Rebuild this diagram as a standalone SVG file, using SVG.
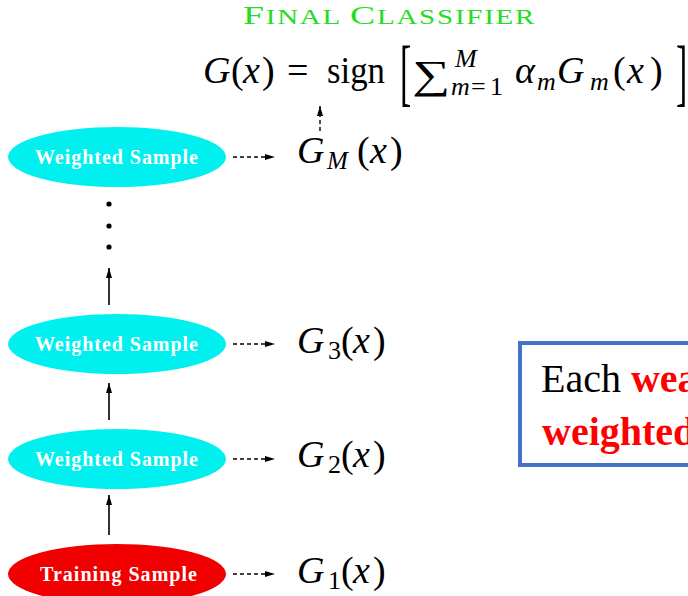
<svg xmlns="http://www.w3.org/2000/svg" width="688" height="596" viewBox="0 0 688 596">
<defs>
<style>
.cy{fill:#00f0f0}
.rd{fill:#f00000}
.nl{font-family:"Liberation Serif",serif;font-weight:bold;font-size:20px;fill:#fff}
.m{font-family:"Liberation Serif",serif;font-size:38px;fill:#000}
.ms{font-family:"Liberation Serif",serif;font-size:26px;fill:#000}
.it{font-style:italic}
.solid{stroke:#000;stroke-width:1.6;fill:none}
.dash{stroke:#000;stroke-width:1.4;fill:none;stroke-dasharray:4 3}
</style>
<marker id="ah" viewBox="0 0 10 6" refX="10" refY="3" markerWidth="10" markerHeight="6" markerUnits="userSpaceOnUse" orient="auto">
<path d="M0,0 L10,3 L0,6 Z" fill="#000"/>
</marker>
</defs>
<rect width="688" height="596" fill="#fff"/>

<g id="title">
<text transform="translate(243,24) scale(1.45,1)" font-family="Liberation Serif, serif" fill="#22dd22" textLength="201" lengthAdjust="spacing"><tspan font-size="26">F</tspan><tspan font-size="20">INAL </tspan><tspan font-size="26">C</tspan><tspan font-size="20">LASSIFIER</tspan></text>
</g>

<g id="formula">
<text class="m it" x="203" y="83">G</text>
<text class="m" x="231" y="83">(</text>
<text class="m it" x="243" y="83">x</text>
<text class="m" x="262" y="83">)</text>
<text class="m" x="287" y="83" font-size="40">=</text>
<text class="m" x="327" y="83" textLength="58" lengthAdjust="spacingAndGlyphs">sign</text>
<text class="m" transform="translate(400,97) scale(0.45,1)" style="font-size:75px">[</text>
<text class="m" x="412" y="88" style="font-size:40px" textLength="38" lengthAdjust="spacingAndGlyphs">∑</text>
<text class="ms it" x="455" y="67">M</text>
<text class="ms it" x="451" y="95">m</text>
<text class="ms" x="471" y="95">=</text>
<text class="ms" x="490" y="95">1</text>
<text class="m it" x="515" y="83">α</text>
<text class="ms it" x="537" y="90">m</text>
<text class="m it" x="557" y="83">G</text>
<text class="ms it" x="590" y="90">m</text>
<text class="m" x="613" y="83">(</text>
<text class="m it" x="627" y="83">x</text>
<text class="m" x="650" y="83">)</text>
<text class="m" transform="translate(676,97) scale(0.45,1)" style="font-size:75px">]</text>
</g>

<g id="node-wM">
<ellipse class="cy" cx="117" cy="157" rx="109" ry="30"/>
<text class="nl" x="35" y="164" textLength="163" lengthAdjust="spacing">Weighted Sample</text>
</g>
<g id="node-w3">
<ellipse class="cy" cx="117" cy="344" rx="109" ry="30"/>
<text class="nl" x="35" y="351" textLength="163" lengthAdjust="spacing">Weighted Sample</text>
</g>
<g id="node-w2">
<ellipse class="cy" cx="117" cy="459" rx="109" ry="30"/>
<text class="nl" x="35" y="466" textLength="163" lengthAdjust="spacing">Weighted Sample</text>
</g>
<g id="node-train">
<ellipse class="rd" cx="117" cy="574" rx="109" ry="30"/>
<text class="nl" x="40" y="581" textLength="157" lengthAdjust="spacing">Training Sample</text>
</g>

<g id="dots">
<circle cx="109" cy="204" r="2.6"/>
<circle cx="109" cy="226" r="2.6"/>
<circle cx="109" cy="247" r="2.6"/>
</g>

<g id="label-GM">
<text class="m it" x="297" y="163">G</text>
<text class="ms it" x="327" y="169" style="font-size:25px">M</text>
<text class="m" x="357" y="163">(</text>
<text class="m it" x="370" y="163">x</text>
<text class="m" x="390" y="163">)</text>
</g>
<g id="label-G3">
<text class="m it" x="297" y="353">G</text>
<text class="ms" x="328" y="359">3</text>
<text class="m" x="341" y="353">(</text>
<text class="m it" x="353" y="353">x</text>
<text class="m" x="373" y="353">)</text>
</g>
<g id="label-G2">
<text class="m it" x="297" y="467">G</text>
<text class="ms" x="328" y="473">2</text>
<text class="m" x="341" y="467">(</text>
<text class="m it" x="353" y="467">x</text>
<text class="m" x="373" y="467">)</text>
</g>
<g id="label-G1">
<text class="m it" x="297" y="583">G</text>
<text class="ms" x="328" y="589">1</text>
<text class="m" x="341" y="583">(</text>
<text class="m it" x="353" y="583">x</text>
<text class="m" x="373" y="583">)</text>
</g>

<g id="connectors">
<line class="solid" x1="109" y1="305" x2="109" y2="268" marker-end="url(#ah)"/>
<line class="solid" x1="109" y1="420" x2="109" y2="383" marker-end="url(#ah)"/>
<line class="solid" x1="109" y1="535" x2="109" y2="495" marker-end="url(#ah)"/>
<line class="dash" x1="233" y1="157" x2="275" y2="157" marker-end="url(#ah)"/>
<line class="dash" x1="233" y1="344" x2="275" y2="344" marker-end="url(#ah)"/>
<line class="dash" x1="233" y1="459" x2="275" y2="459" marker-end="url(#ah)"/>
<line class="dash" x1="233" y1="574" x2="275" y2="574" marker-end="url(#ah)"/>
<line class="dash" x1="320" y1="131" x2="320" y2="106" marker-end="url(#ah)"/>
</g>

<g id="note">
<rect x="520" y="343" width="200" height="122" fill="#fff" stroke="#4472c4" stroke-width="4"/>
<text x="541" y="392" font-family="Liberation Serif, serif" font-size="40" fill="#000">Each <tspan fill="#f00" font-weight="bold">wea</tspan></text>
<text x="542" y="445" font-family="Liberation Serif, serif" font-size="40" fill="#f00" font-weight="bold">weighted</text>
</g>
</svg>
